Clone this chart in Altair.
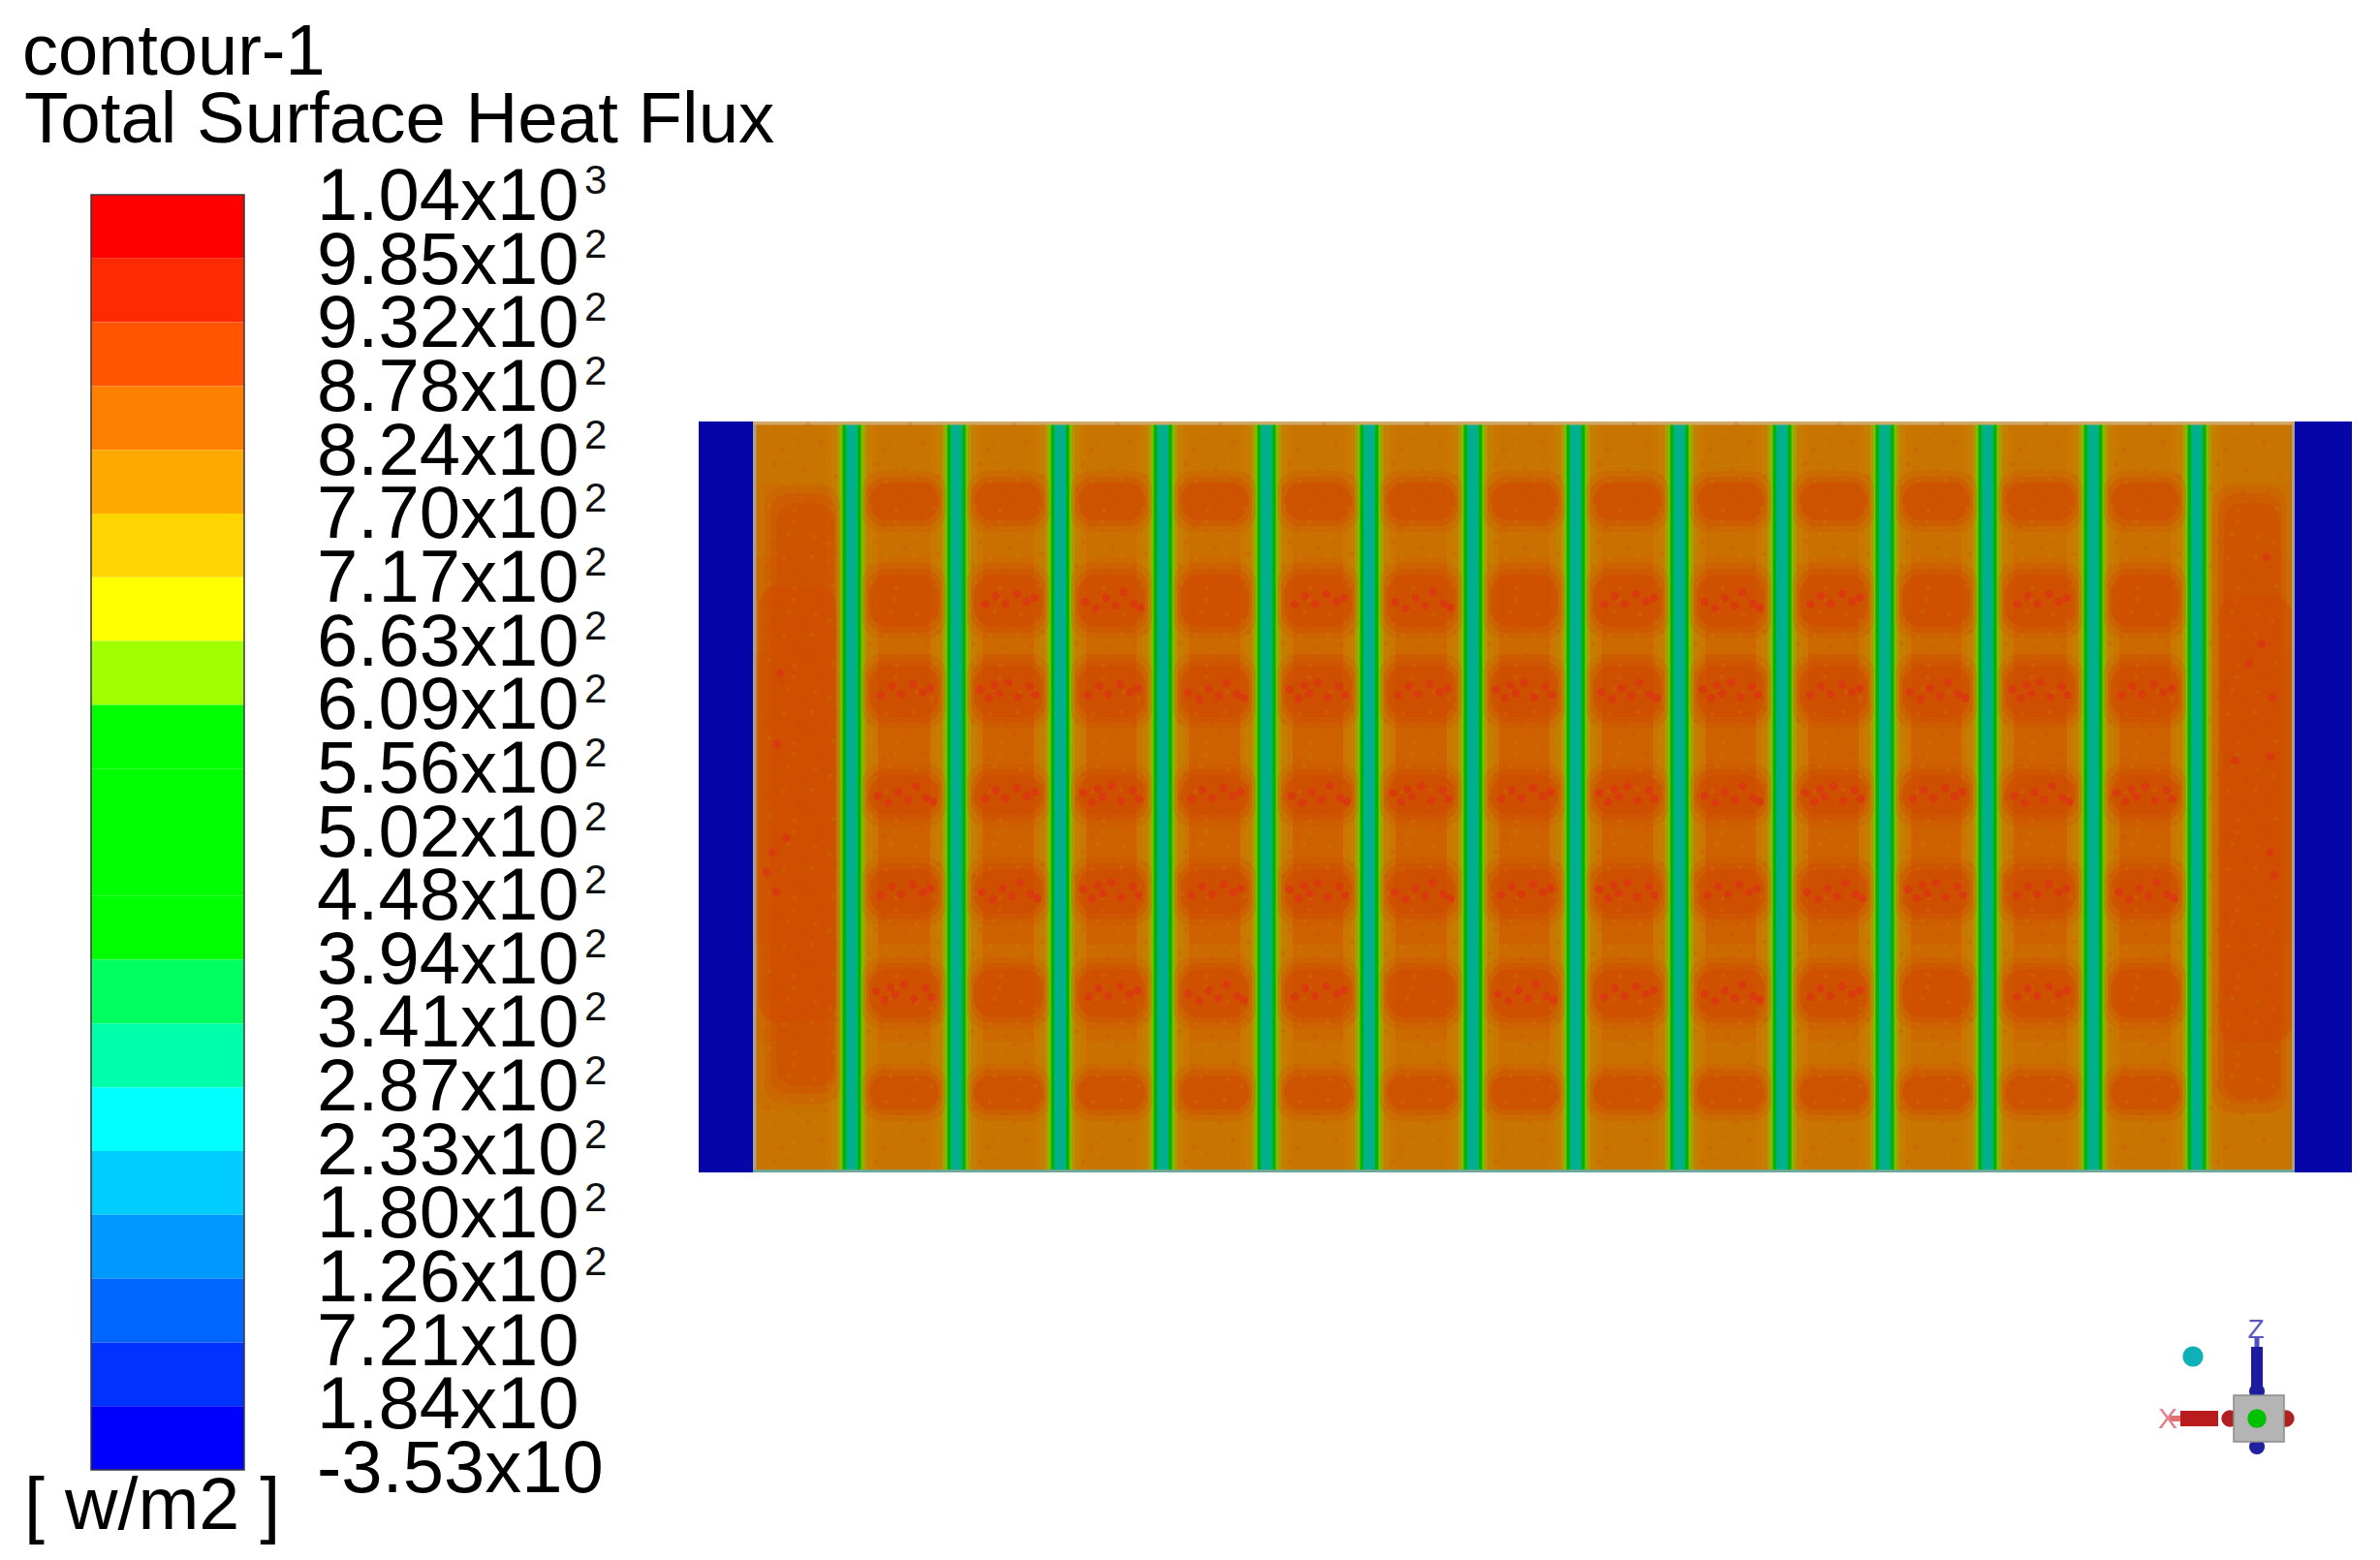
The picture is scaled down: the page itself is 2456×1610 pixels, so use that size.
import altair as alt
import pandas as pd

# ---------- colour bar ----------
LABELS = ["1.04x10", "9.85x10", "9.32x10", "8.78x10", "8.24x10", "7.70x10", "7.17x10",
          "6.63x10", "6.09x10", "5.56x10", "5.02x10", "4.48x10", "3.94x10", "3.41x10",
          "2.87x10", "2.33x10", "1.80x10", "1.26x10", "7.21x10", "1.84x10", "-3.53x10"]
EXPONENTS = ["3"] + ["2"] * 17 + ["", "", ""]
BAND_COLORS = ["#ff0000", "#ff2b00", "#ff5500", "#ff8000", "#ffaa00", "#ffd500", "#ffff00",
               "#a0ff00", "#00ff00", "#00ff00", "#00ff00", "#00ff00", "#00ff60", "#00ffaa",
               "#00ffff", "#00ccff", "#0099ff", "#0066ff", "#0033ff", "#0000ff"]

# ---------- contour plate (units: 1 = 10 px of the original image) ----------
PLATE_W = 170.6
PLATE_H = 77.5
FIN_X = [15.8, 26.6, 37.3, 47.9, 58.6, 69.2, 79.9, 90.5, 101.2, 111.8, 122.4, 133.0, 143.9, 154.6]
FIN_HALF = [2.7, 2.1, 1.5, 1.2, 0.95, 0.6]
FIN_LEVEL = ["glow2", "glow", "olive", "lime", "green", "teal"]
WALL_L = 5.6
WALL_R = 164.7
ZONE_TOP = [0.0, 6.3, 14.0, 24.0, 54.0, 64.0, 71.0]
ZONE_BOT = [6.3, 14.0, 24.0, 54.0, 64.0, 71.0, 77.5]
ZONE_LEVEL = ["plate", "warm", "warm2", "warmer", "warm2", "warm", "plate"]
ROW_TOP = [6.3, 15.8, 25.2, 36.5, 46.2, 56.5, 67.5]
ROW_BOT = [10.2, 21.2, 30.5, 40.6, 50.8, 61.5, 71.0]
# speckle pattern per interior channel (rows) and row (columns); 0 = none
SPECKLE = [
    [0, 0, 1, 2, 1, 3, 0],
    [0, 1, 3, 1, 2, 0, 0],
    [0, 2, 1, 3, 3, 1, 0],
    [0, 0, 2, 1, 1, 2, 0],
    [0, 1, 3, 2, 3, 1, 0],
    [0, 2, 1, 3, 2, 0, 0],
    [0, 0, 3, 1, 1, 2, 0],
    [0, 1, 2, 3, 3, 1, 0],
    [0, 2, 3, 2, 1, 2, 0],
    [0, 1, 1, 3, 2, 1, 0],
    [0, 0, 2, 1, 3, 0, 0],
    [0, 1, 3, 2, 1, 1, 0],
    [0, 0, 1, 3, 2, 0, 0],
]
PATTERN_DX = {1: [-2.4, -1.3, -0.3, 0.9, 1.9, 2.7], 2: [-2.7, -1.6, -0.6, 0.4, 1.2, 2.3, 3.0],
              3: [-2.9, -2.0, -0.9, 0.0, 1.0, 2.2, 2.8, -1.4]}
PATTERN_DY = {1: [0.4, -0.5, 0.3, -0.7, 0.1, -0.3], 2: [0.1, 0.8, -0.3, 0.5, -0.9, 0.3, 0.7],
              3: [-0.2, 0.7, 0.2, -0.9, 0.6, -0.5, 0.4, -0.6]}
BLOB_GROW_X = [1.1, 1.5, 1.8]
BLOB_GROW_Y = [1.2, 0.6, 0.0]
BLOB_ALPHA = [0.2, 0.35, 0.55]
END_BLOCKS = [
    # x0, x1, y0, y1, alpha
    (6.8, 14.6, 6.6, 70.4, 0.25), (7.4, 14.2, 7.4, 69.4, 0.35), (6.2, 14.2, 17.0, 62.0, 0.5),
    (8.0, 14.0, 8.4, 68.6, 0.4),
    (156.2, 163.8, 6.6, 71.4, 0.25), (156.8, 163.4, 7.4, 70.4, 0.35), (156.9, 164.4, 18.0, 64.0, 0.5),
    (157.4, 163.2, 8.4, 70.0, 0.4),
]
END_SPECKLE_X = [7.6, 8.4, 8.1, 7.0, 9.0, 8.0, 162.2, 162.4, 162.2, 162.6, 161.8, 161.3, 158.5, 160.0]
END_SPECKLE_Y = [44.5, 26.0, 33.3, 46.5, 43.0, 48.5, 34.6, 28.5, 44.5, 46.8, 14.0, 23.0, 35.0, 25.0]
# mottled texture: one tile per 8 plate units, inside a channel
TEX_DX = [-3.4, -2.1, -0.8, 0.6, 1.9, 3.2, -2.9, -1.4, 0.1, 1.3, 2.8, -3.6, -1.9, -0.3, 1.0, 2.4, 3.5, -0.9]
TEX_DY = [0.7, 2.9, 1.2, 0.3, 2.2, 1.0, 4.4, 3.6, 5.0, 3.9, 4.6, 6.9, 6.2, 7.4, 6.0, 7.1, 5.7, 2.4]
TEX_TONE = ["l", "d", "l", "d", "d", "l", "d", "l", "d", "l", "l", "d", "l", "d", "l", "d", "d", "l"]
CHANNEL_MID = [10.7, 159.65]
LEVELS = ["wall", "edge", "plate", "warm", "warm2", "warmer", "blob",
          "glow2", "glow", "olive", "lime", "green", "teal", "rimtop", "rimbot"]
LEVEL_COLORS = ["#0606a8", "#a8a090", "#c87400", "#ca7000", "#cc6a00", "#ce6200", "#d04a00",
                "#ca7600", "#c47e00", "#b09800", "#80bc00", "#00b400", "#00b08c", "#d0a868", "#70a898"]

cells = []
for x0, x1 in [(0.0, WALL_L), (WALL_R, PLATE_W)]:
    cells.append(dict(x0=x0, x1=x1, y0=0.0, y1=PLATE_H, level="wall"))
for y0, y1, lv in zip(ZONE_TOP, ZONE_BOT, ZONE_LEVEL):
    cells.append(dict(x0=WALL_L, x1=WALL_R, y0=y0, y1=y1, level=lv))
for cx in FIN_X:
    for h, lv in zip(FIN_HALF, FIN_LEVEL):
        cells.append(dict(x0=cx - h, x1=cx + h, y0=0.0, y1=PLATE_H, level=lv))
cells.append(dict(x0=WALL_L, x1=WALL_L + 0.35, y0=0.0, y1=PLATE_H, level="edge"))
cells.append(dict(x0=WALL_R - 0.3, x1=WALL_R, y0=0.0, y1=PLATE_H, level="edge"))
cells.append(dict(x0=WALL_L, x1=WALL_R, y0=0.0, y1=0.35, level="rimtop"))
cells.append(dict(x0=WALL_L, x1=WALL_R, y0=PLATE_H - 0.3, y1=PLATE_H, level="rimbot"))
cells_df = pd.DataFrame(cells)

blobs = []
specks = []
for i in range(13):
    left, right = FIN_X[i], FIN_X[i + 1]
    mid = (left + right) / 2
    for r, (t, b) in enumerate(zip(ROW_TOP, ROW_BOT)):
        for gx, gy, al in zip(BLOB_GROW_X, BLOB_GROW_Y, BLOB_ALPHA):
            blobs.append(dict(x0=left + gx, x1=right - gx, y0=t - gy, y1=b + gy, a=al))
        p = SPECKLE[i][r]
        if p:
            for dx, dy in zip(PATTERN_DX[p], PATTERN_DY[p]):
                specks.append(dict(x=mid + dx, y=(t + b) / 2 + dy))
for x0, x1, y0, y1, al in END_BLOCKS:
    blobs.append(dict(x0=x0, x1=x1, y0=y0, y1=y1, a=al))
for x, y in zip(END_SPECKLE_X, END_SPECKLE_Y):
    specks.append(dict(x=x, y=y))
blobs_df = pd.DataFrame(blobs)
specks_df = pd.DataFrame(specks)

mids = CHANNEL_MID + [(FIN_X[i] + FIN_X[i + 1]) / 2 for i in range(13)]
tex = []
for m in mids:
    for k in range(10):
        for dx, dy, tone in zip(TEX_DX, TEX_DY, TEX_TONE):
            y = k * 8 + dy
            if y < PLATE_H - 0.6:
                tex.append(dict(x=m + dx, y=y, tone=tone))
tex_df = pd.DataFrame(tex)

# ---------- orientation triad (units: 1 = 10 px) ----------
TRIAD_RECT_X0 = [-0.6, -0.25, -7.9, -9.0]
TRIAD_RECT_X1 = [0.6, 0.25, -4.0, -7.9]
TRIAD_RECT_Y0 = [2.4, 7.4, -0.8, -0.3]
TRIAD_RECT_Y1 = [7.4, 8.4, 0.8, 0.3]
TRIAD_RECT_C = ["#1c1ca0", "#5050c0", "#b81c1c", "#e07070"]
TRIAD_DOT_X = [-6.6, 0.0, 0.0, -2.8, 3.0, 0.0]
TRIAD_DOT_Y = [6.4, 2.8, -2.9, 0.0, 0.0, 0.0]
TRIAD_DOT_SIZE = [450, 260, 260, 300, 300, 380]
TRIAD_DOT_C = ["#10b0b8", "#2020a0", "#2020a0", "#b02020", "#b02020", "#00c000"]
TRIAD_TEXT = ["Z", "X"]
TRIAD_TEXT_X = [-0.1, -9.2]
TRIAD_TEXT_Y = [9.1, -0.1]
TRIAD_TEXT_C = ["#5858c0", "#e08090"]
TRIAD_TEXT_SIZE = [28, 30]

FONT = "Liberation Sans"
OX, OY = 8, 8  # page margin

bar_x = alt.Scale(domain=[0, 1], range=[94 - OX, 252 - OX], nice=False, zero=False)
bar_y = alt.Scale(domain=[0, 20], range=[201 - OY, 1517 - OY], nice=False, zero=False)
lab_y = alt.Scale(domain=[0, 20], range=[201 - OY, 1514 - OY], nice=False, zero=False)
plate_x = alt.Scale(domain=[0, PLATE_W], range=[721 - OX, 2427 - OX], nice=False, zero=False)
plate_y = alt.Scale(domain=[0, PLATE_H], range=[435 - OY, 1210 - OY], nice=False, zero=False)
tri_x = alt.Scale(domain=[-10, 10], range=[2329 - 100 - OX, 2329 + 100 - OX], nice=False, zero=False)
tri_y = alt.Scale(domain=[-10, 10], range=[1464 + 100 - OY, 1464 - 100 - OY], nice=False, zero=False)
level_scale = alt.Scale(domain=LEVELS, range=LEVEL_COLORS)

bands = pd.DataFrame({"a": list(range(20)), "b": list(range(1, 21)), "c": BAND_COLORS,
                      "x0": [0] * 20, "x1": [1] * 20})
bar = alt.Chart(bands).mark_rect().encode(
    x=alt.X("x0:Q", scale=bar_x, axis=None), x2="x1:Q",
    y=alt.Y("a:Q", scale=bar_y, axis=None), y2="b:Q",
    color=alt.Color("c:N", scale=None))
bar_frame = alt.Chart(pd.DataFrame({"x0": [0], "x1": [1], "a": [0], "b": [20]})).mark_rect(
    fillOpacity=0, stroke="#3a3a3a", strokeWidth=1.5).encode(
    x=alt.X("x0:Q", scale=bar_x, axis=None), x2="x1:Q",
    y=alt.Y("a:Q", scale=bar_y, axis=None), y2="b:Q")

lab_df = pd.DataFrame({"t": LABELS, "e": EXPONENTS, "i": list(range(21))})
labels = alt.Chart(lab_df).mark_text(align="left", baseline="alphabetic", font=FONT, fontSize=76,
                                     dy=26, color="#000000").encode(
    x=alt.value(327 - OX), y=alt.Y("i:Q", scale=lab_y, axis=None), text="t:N")
exps = alt.Chart(lab_df[lab_df.e != ""]).mark_text(align="left", baseline="alphabetic", font=FONT, fontSize=42,
                                                   dy=-1, color="#111111").encode(
    x=alt.value(603 - OX), y=alt.Y("i:Q", scale=lab_y, axis=None), text="e:N")

heads = pd.DataFrame({"t": ["contour-1", "Total Surface Heat Flux", "[ w/m2 ]"],
                      "x": [23 - OX, 25 - OX, 25 - OX], "y": [77 - OY, 147 - OY, 1578 - OY],
                      "s": [74, 74.5, 75.5]})
title_marks = [
    alt.Chart(heads.iloc[[k]]).mark_text(align="left", baseline="alphabetic", font=FONT,
                                         fontSize=float(heads.s[k]), color="#000000").encode(
        x=alt.value(float(heads.x[k])), y=alt.value(float(heads.y[k])), text="t:N")
    for k in range(3)
]

plate = alt.Chart(cells_df).mark_rect().encode(
    x=alt.X("x0:Q", scale=plate_x, axis=None), x2="x1:Q",
    y=alt.Y("y0:Q", scale=plate_y, axis=None), y2="y1:Q",
    color=alt.Color("level:N", scale=level_scale, legend=None))
blob_marks = alt.Chart(blobs_df).mark_rect(cornerRadius=20, color="#d04a00").encode(
    x=alt.X("x0:Q", scale=plate_x, axis=None), x2="x1:Q",
    y=alt.Y("y0:Q", scale=plate_y, axis=None), y2="y1:Q",
    opacity=alt.Opacity("a:Q", scale=None))
tex_marks = alt.Chart(tex_df).mark_circle(size=24, opacity=0.2).encode(
    x=alt.X("x:Q", scale=plate_x, axis=None),
    y=alt.Y("y:Q", scale=plate_y, axis=None),
    color=alt.Color("tone:N", scale=alt.Scale(domain=["l", "d"], range=["#cc8a10", "#cc4808"]), legend=None))
speck_marks = alt.Chart(specks_df).mark_circle(size=70, opacity=0.85, color="#da3610").encode(
    x=alt.X("x:Q", scale=plate_x, axis=None),
    y=alt.Y("y:Q", scale=plate_y, axis=None))

tri_rects = pd.DataFrame({"x0": TRIAD_RECT_X0, "x1": TRIAD_RECT_X1, "y0": TRIAD_RECT_Y0,
                          "y1": TRIAD_RECT_Y1, "c": TRIAD_RECT_C})
tri_dots = pd.DataFrame({"x": TRIAD_DOT_X, "y": TRIAD_DOT_Y, "s": TRIAD_DOT_SIZE, "c": TRIAD_DOT_C})
tri_back = alt.Chart(tri_dots.iloc[:5]).mark_circle(opacity=1).encode(
    x=alt.X("x:Q", scale=tri_x, axis=None), y=alt.Y("y:Q", scale=tri_y, axis=None),
    size=alt.Size("s:Q", scale=None), color=alt.Color("c:N", scale=None))
tri_bars = alt.Chart(tri_rects).mark_rect().encode(
    x=alt.X("x0:Q", scale=tri_x, axis=None), x2="x1:Q",
    y=alt.Y("y0:Q", scale=tri_y, axis=None), y2="y1:Q",
    color=alt.Color("c:N", scale=None))
tri_cube = alt.Chart(pd.DataFrame({"x0": [-2.4], "x1": [2.8], "y0": [-2.4], "y1": [2.4]})).mark_rect(
    color="#b4b4b4", stroke="#8a8a8a", strokeWidth=1.5).encode(
    x=alt.X("x0:Q", scale=tri_x, axis=None), x2="x1:Q",
    y=alt.Y("y0:Q", scale=tri_y, axis=None), y2="y1:Q")
tri_front = alt.Chart(tri_dots.iloc[5:]).mark_circle(opacity=1).encode(
    x=alt.X("x:Q", scale=tri_x, axis=None), y=alt.Y("y:Q", scale=tri_y, axis=None),
    size=alt.Size("s:Q", scale=None), color=alt.Color("c:N", scale=None))
tri_text = alt.Chart(pd.DataFrame({"t": TRIAD_TEXT, "x": TRIAD_TEXT_X, "y": TRIAD_TEXT_Y, "c": TRIAD_TEXT_C,
                                   "s": TRIAD_TEXT_SIZE})).mark_text(
    font=FONT, baseline="middle", align="center").encode(
    x=alt.X("x:Q", scale=tri_x, axis=None), y=alt.Y("y:Q", scale=tri_y, axis=None),
    text="t:N", color=alt.Color("c:N", scale=None), size=alt.Size("s:Q", scale=None))

chart = alt.layer(
    bar, bar_frame, labels, exps, *title_marks,
    plate, blob_marks, tex_marks, speck_marks,
    tri_back, tri_bars, tri_cube, tri_front, tri_text,
).resolve_scale(x="independent", y="independent", color="independent", size="independent",
                opacity="independent").properties(
    width=2436, height=1590, padding=0, autosize=alt.AutoSizeParams(type="none"),
    background="#ffffff",
).configure_view(strokeWidth=0)

chart.save("out.html", embed_options={"renderer": "svg", "actions": False})
